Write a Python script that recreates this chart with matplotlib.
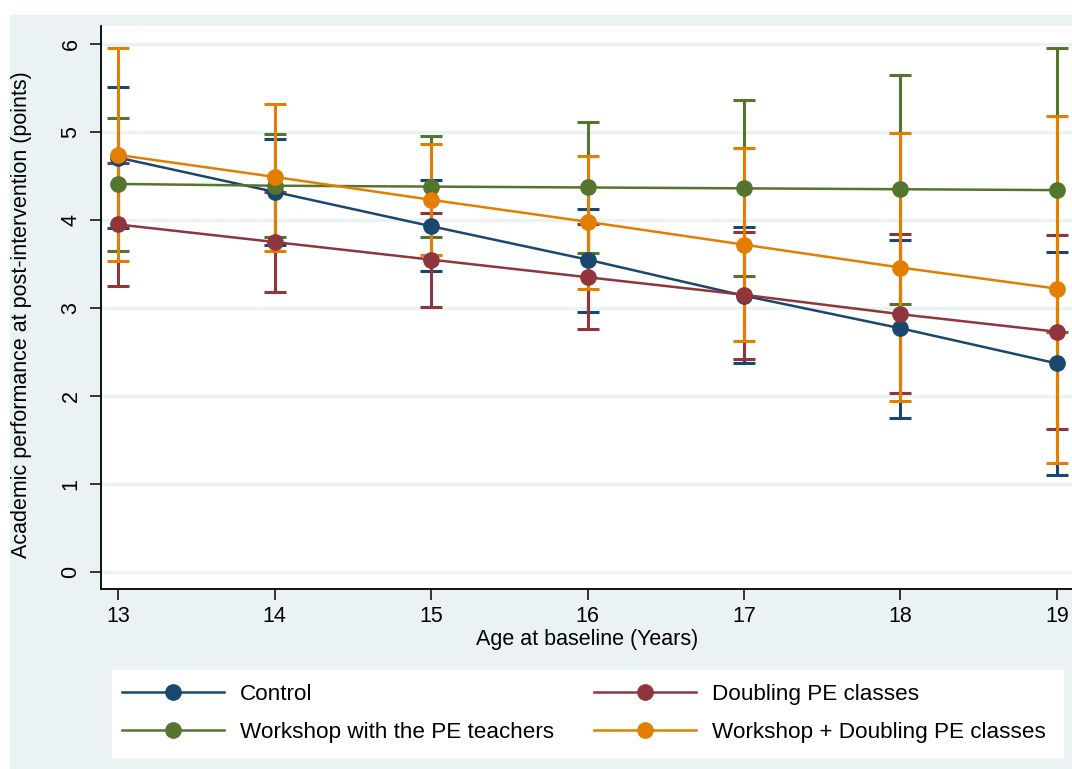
import matplotlib
matplotlib.use("Agg")
import matplotlib.pyplot as plt
from matplotlib.patches import Rectangle

plt.rcParams['font.family'] = ['Liberation Sans', 'DejaVu Sans']

ages = [13, 14, 15, 16, 17, 18, 19]
groups = ["Control", "Doubling PE classes",
          "Workshop with the PE teachers", "Workshop + Doubling PE classes"]

control = [4.71, 4.32, 3.93, 3.55, 3.14, 2.77, 2.37]
control_lo = [3.91, 3.72, 3.42, 2.96, 2.38, 1.75, 1.10]
control_hi = [5.51, 4.92, 4.45, 4.12, 3.92, 3.77, 3.64]

doubling = [3.95, 3.75, 3.55, 3.35, 3.15, 2.93, 2.73]
doubling_lo = [3.25, 3.18, 3.01, 2.76, 2.42, 2.04, 1.63]
doubling_hi = [4.65, 4.32, 4.08, 3.95, 3.86, 3.84, 3.83]

workshop = [4.41, 4.39, 4.38, 4.37, 4.36, 4.35, 4.34]
workshop_lo = [3.65, 3.81, 3.81, 3.63, 3.36, 3.05, 2.73]
workshop_hi = [5.16, 4.98, 4.95, 5.11, 5.36, 5.65, 5.95]

combo = [4.74, 4.49, 4.23, 3.98, 3.72, 3.46, 3.22]
combo_lo = [3.54, 3.65, 3.60, 3.22, 2.62, 1.94, 1.24]
combo_hi = [5.95, 5.32, 4.86, 4.73, 4.82, 4.99, 5.18]

colors = ["#1a476f", "#90353b", "#55752f", "#e37e00"]
bg = "#eaf2f3"
fs = 15.5

series = [(control, control_lo, control_hi),
          (doubling, doubling_lo, doubling_hi),
          (workshop, workshop_lo, workshop_hi),
          (combo, combo_lo, combo_hi)]

W, H = 1072, 769
fig = plt.figure(figsize=(W / 100, H / 100), dpi=100)
fig.patches.append(Rectangle((10 / W, 0), 1 - 10 / W, 1 - 15 / H,
                             transform=fig.transFigure, color=bg, zorder=-5))
# white legend box
fig.patches.append(Rectangle((112 / W, 1 - 757 / H), (1063 - 112) / W, 87 / H,
                             transform=fig.transFigure, color="white", zorder=-4))

ax = fig.add_axes([101 / W, 1 - 589 / H, 1 - 101 / W, (589 - 26) / H])
ax.set_facecolor("white")

# confidence intervals first, points and lines on top
for (m, lo, hi), c in zip(series, colors):
    yerr = [[a - b for a, b in zip(m, lo)], [b - a for a, b in zip(m, hi)]]
    ax.errorbar(ages, m, yerr=yerr, fmt="none", ecolor=c, elinewidth=2.2,
                capsize=8, capthick=2.2, zorder=3)

handles = []
for (m, lo, hi), c, name in zip(series, colors, groups):
    h, = ax.plot(ages, m, color=c, lw=1.8, marker="o", markersize=11,
                 label=name, zorder=4)
    handles.append(h)

ax.set_xlim(12.891, 19.096)
ax.set_ylim(-0.193, 6.205)
ax.set_xticks(ages)
ax.set_yticks(range(0, 7))
ax.grid(axis="y", color=bg, lw=2.4)
ax.set_axisbelow(True)
for s in ["top", "right"]:
    ax.spines[s].set_visible(False)
for s in ["left", "bottom"]:
    ax.spines[s].set_linewidth(1.3)
ax.tick_params(length=8, width=1.1, labelsize=fs)
ax.tick_params(axis="y", pad=6)
ax.tick_params(axis="x", pad=4)
for lab in ax.get_yticklabels():
    lab.set_rotation(90)
    lab.set_va("center")

fig.text(587 / W, 1 - 639 / H, "Age at baseline (Years)", fontsize=fs,
         ha="center", va="center")
fig.text(22 / W, 1 - 315 / H, "Academic performance at post-intervention (points)",
         fontsize=fs, rotation=90, ha="center", va="center")

# row-wise order like the original: Control, Doubling / Workshop, Combo
order = [0, 2, 1, 3]
leg = fig.legend([handles[i] for i in order], [groups[i] for i in order],
                 loc="center left", bbox_to_anchor=(122 / W, 1 - 713.5 / H),
                 ncol=2, frameon=False, fontsize=16.2, handlelength=4.55,
                 handletextpad=0.7, columnspacing=1.75, labelspacing=0.75,
                 borderpad=0, borderaxespad=0)

fig.savefig("out.png", dpi=100)
